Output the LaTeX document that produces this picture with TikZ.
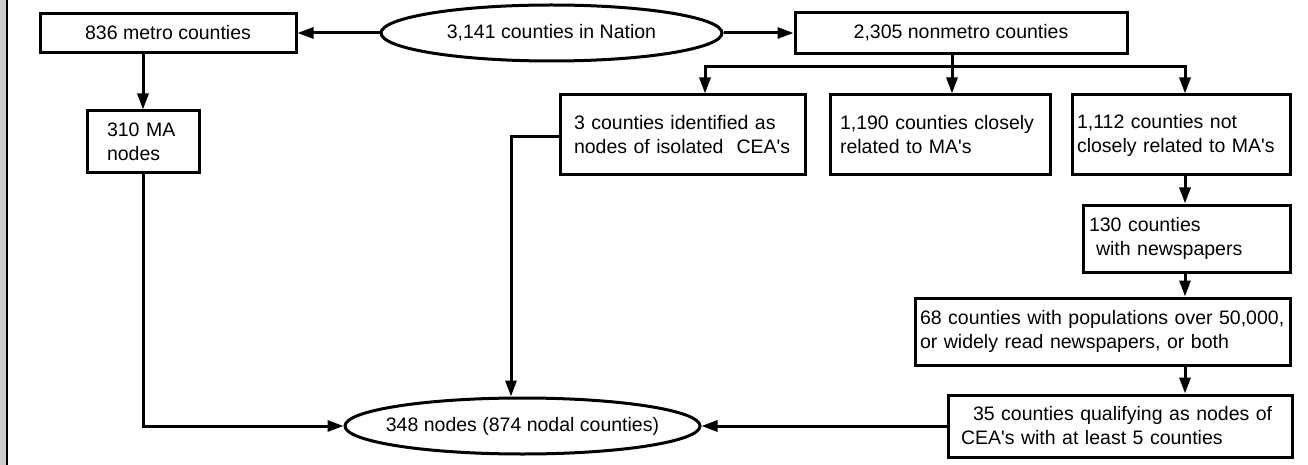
\documentclass[tikz,border=0pt]{standalone}
\usepackage{fontspec}
\setmainfont{Liberation Sans}
\usetikzlibrary{shapes.geometric,arrows.meta}

\begin{document}
\begin{tikzpicture}[x=1pt, y=-1pt,
    every node/.style={font=\fontsize{19.5}{24}\selectfont},
    box/.style={draw=black, line width=3pt, rectangle, inner ysep=0pt, align=left},
    oval/.style={draw=black, line width=3pt, ellipse, inner xsep=-30pt, inner ysep=0pt},
    arr/.style={line width=3pt, -{Triangle[length=16pt,width=11pt]}}]
  \useasboundingbox (0,0) rectangle (1308,465);
  \fill[gray!40] (0,0) rectangle (6,465);
  \draw[line width=1.5pt] (7,0) -- (7,465);

  \node[oval, minimum width=341pt, minimum height=56pt] (nation) at (551.5,33) {3,141 counties in Nation};
  \node[box, minimum width=256pt, minimum height=39pt, align=center] (metro) at (168,33) {836 metro counties};
  \node[box, minimum width=332pt, minimum height=41pt, align=center] (nonmetro) at (961,33) {2,305 nonmetro counties};

  \node[box, inner xsep=20pt, text width=72pt, minimum height=62pt] (ma) at (143,142) {310 MA\\nodes};
  \node[box, inner xsep=14pt, text width=217pt, minimum height=80pt] (cty3) at (682.5,135) {3 counties identified as\\nodes of isolated~ CEA\textquotesingle s};
  \node[box, inner xsep=10pt, text width=200pt, minimum height=80pt] (close) at (940,135) {1,190 counties closely\\related to MA\textquotesingle s};
  \node[box, inner xsep=5pt, text width=208pt, minimum height=80pt] (notclose) at (1181,135) {1,112 counties not\\closely related to MA\textquotesingle s};
  \node[box, inner xsep=6pt, text width=195pt, minimum height=67pt] (news) at (1186.5,238.5) {130 counties\\\hspace*{7pt}with newspapers};
  \node[box, inner xsep=5pt, text width=365pt, minimum height=67pt] (pop) at (1102.5,331.5) {68 counties with populations over 50,000,\\or widely read newspapers, or both};
  \node[box, inner xsep=13pt, text width=318pt, minimum height=62pt] (qual) at (1120,426) {\hspace*{12pt}35 counties qualifying as nodes of\\CEA\textquotesingle s with at least 5 counties};
  \node[oval, minimum width=355pt, minimum height=56pt] (nodes) at (522.5,426) {348 nodes (874 nodal counties)};

  \coordinate (split) at (952,67);
  \coordinate (splitL) at (705,67);
  \coordinate (splitR) at (1185,67);
  \coordinate (drop) at (511,137);

  \draw[arr] (nation.west) -- (metro.east);
  \draw[arr] (nation.east) -- (nonmetro.west);
  \draw[arr] (nonmetro.south -| split) -- (split |- close.north);
  \draw[arr] (split) -| (splitL |- cty3.north);
  \draw[arr] (split) -| (splitR |- notclose.north);
  \draw[arr] (ma.north |- metro.south) -- (ma.north);
  \draw[arr] (ma.south) |- (nodes.west);
  \draw[arr] (cty3.west |- drop) -| (drop |- nodes.north);
  \draw[arr] (notclose.south -| splitR) -- (splitR |- news.north);
  \draw[arr] (news.south -| splitR) -- (splitR |- pop.north);
  \draw[arr] (pop.south -| splitR) -- (splitR |- qual.north);
  \draw[arr] (qual.west) -- (nodes.east);
\end{tikzpicture}
\end{document}
